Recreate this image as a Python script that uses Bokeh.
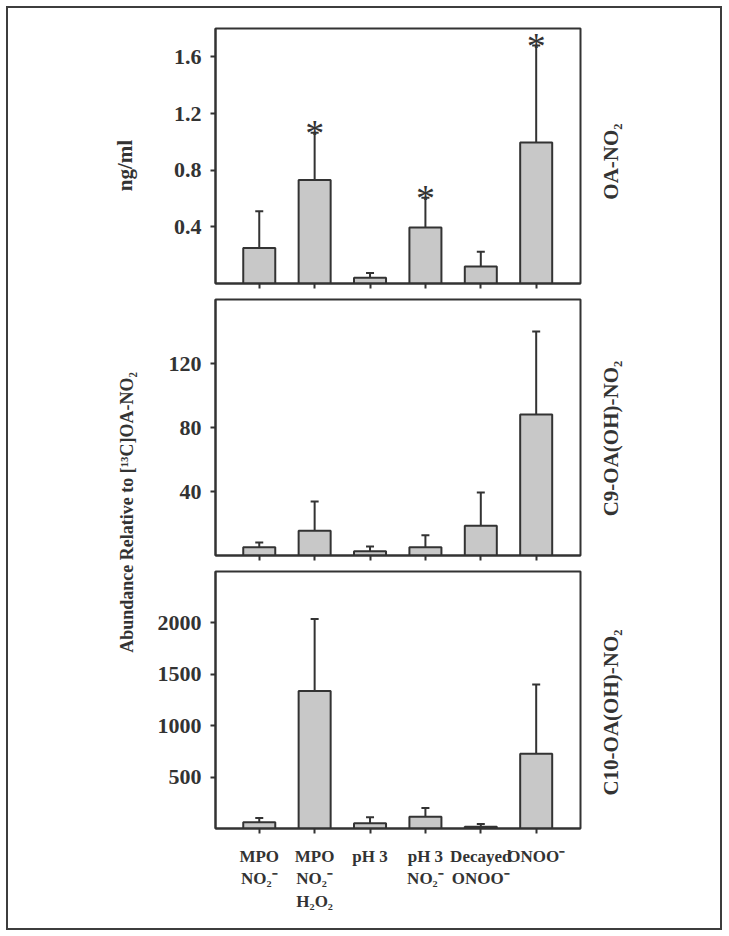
import math
from bokeh.plotting import figure
from bokeh.layouts import row, column
from bokeh.models import Range1d, FixedTicker, Whisker, TeeHead, ColumnDataSource
from bokeh.core.properties import value
from bokeh.embed import file_html
from bokeh.resources import INLINE

# ---------------- data ----------------
conditions = ["MPO\nNO\u2082\u207b", "MPO\nNO\u2082\u207b\nH\u2082O\u2082", "pH 3",
              "pH 3\nNO\u2082\u207b", "Decayed\nONOO\u207b", "ONOO\u207b"]
positions = [0, 1, 2, 3, 4, 5]

oa_no2_mean = [0.25, 0.73, 0.04, 0.395, 0.12, 0.995]
oa_no2_err = [0.26, 0.335, 0.035, 0.21, 0.105, 0.685]
oa_no2_sig = [False, True, False, True, False, True]
oa_no2_ticks = [0.4, 0.8, 1.2, 1.6]

c9_mean = [5.1, 15.5, 2.6, 5.1, 18.6, 88.2]
c9_err = [3.1, 18.3, 3.1, 7.5, 20.8, 51.8]
c9_ticks = [40, 80, 120]

c10_mean = [60, 1338, 50, 115, 18, 728]
c10_err = [42, 701, 59, 85, 25, 672]
c10_ticks = [500, 1000, 1500, 2000]

panel_names = ["OA-NO\u2082", "C9-OA(OH)-NO\u2082", "C10-OA(OH)-NO\u2082"]
y_title_top = "ng/ml"
y_title_main = "Abundance Relative to [\u00b9\u00b3C]OA-NO\u2082"

# ---------------- style ----------------
FONT = "Liberation Serif"
INK = "#333333"
BAR = "#c8c8c8"
X_LO, X_HI = -0.79, 5.80
H = 920          # total content height
PANEL_W = 440


def make_panel(means, errs, ymax, ticks, height, b_top, b_bottom,
               show_labels, sig=None):
    p = figure(width=PANEL_W, height=height, x_range=Range1d(X_LO, X_HI),
               y_range=Range1d(0, ymax), output_backend="svg",
               toolbar_location=None, min_border_left=65, min_border_right=10,
               min_border_top=b_top, min_border_bottom=b_bottom)
    p.grid.visible = False
    p.background_fill_color = "white"
    p.border_fill_color = "white"
    p.outline_line_color = INK
    p.outline_line_width = 2

    upper = [m + e for m, e in zip(means, errs)]
    src = ColumnDataSource(dict(x=positions, mean=means, upper=upper))
    p.vbar(x="x", top="mean", bottom=0, width=0.578, source=src,
           fill_color=BAR, line_color=INK, line_width=2)
    w = Whisker(base="x", lower="mean", upper="upper", source=src,
                dimension="height", line_color=INK, line_width=2,
                lower_head=None,
                upper_head=TeeHead(size=8, line_color=INK, line_width=2))
    p.add_layout(w)

    if sig is not None:
        sx = [x for x, s in zip(positions, sig) if s]
        sy = [u for u, s in zip(upper, sig) if s]
        p.text(x=sx, y=sy, text=["*"] * len(sx), text_font=value(FONT),
               text_font_size="38px", text_color=INK, text_align="center",
               text_baseline="alphabetic", y_offset=0)

    ya = p.yaxis[0]
    ya.ticker = FixedTicker(ticks=ticks)
    ya.major_tick_out = 5
    ya.major_tick_in = 0
    ya.minor_tick_line_color = None
    ya.axis_line_color = INK
    ya.axis_line_width = 2
    ya.major_tick_line_color = INK
    ya.major_tick_line_width = 2
    ya.major_label_text_font = FONT
    ya.major_label_text_font_style = "bold"
    ya.major_label_text_font_size = "22px"
    ya.major_label_text_color = INK
    ya.major_label_standoff = 9

    xa = p.xaxis[0]
    xa.axis_line_color = INK
    xa.axis_line_width = 2
    if show_labels:
        xa.ticker = FixedTicker(ticks=positions)
        xa.major_tick_out = 5
        xa.major_tick_in = 0
        xa.minor_tick_line_color = None
        xa.major_tick_line_color = INK
        xa.major_tick_line_width = 2
        xa.major_label_overrides = {i: c for i, c in zip(positions, conditions)}
        xa.major_label_text_font = FONT
        xa.major_label_text_font_style = "bold"
        xa.major_label_text_font_size = "17px"
        xa.major_label_text_color = INK
        xa.major_label_standoff = 13
    else:
        # ticks only, no labels: use minor ticks at the bar positions
        xa.ticker = FixedTicker(ticks=[], minor_ticks=positions)
        xa.major_tick_line_color = None
        xa.minor_tick_out = 5
        xa.minor_tick_in = 0
        xa.minor_tick_line_color = INK
        xa.minor_tick_line_width = 2
    return p


p1 = make_panel(oa_no2_mean, oa_no2_err, 1.8, oa_no2_ticks,
                283, 20, 8, False, sig=oa_no2_sig)
p2 = make_panel(c9_mean, c9_err, 160, c9_ticks, 272, 8, 8, False)
p3 = make_panel(c10_mean, c10_err, 2500, c10_ticks, 365, 8, 100, True)


def strip(width):
    s = figure(width=width, height=H, x_range=Range1d(0, width),
               y_range=Range1d(0, H), x_axis_location=None,
               y_axis_location=None, output_backend="svg",
               toolbar_location=None, min_border=0)
    s.grid.visible = False
    s.outline_line_color = None
    return s


txt = dict(angle=math.pi / 2, text_font=value(FONT), text_font_style="bold",
           text_color=INK, text_align="center", text_baseline="middle")

# left strip: y titles
left = strip(142)
left.text(x=[116], y=[H - 157], text=[y_title_top], text_font_size="21px", **txt)
left.text(x=[118], y=[H - 504], text=[y_title_main], text_font_size="18px", **txt)

# right strip: panel names
right = strip(130)
right.text(x=[20, 20, 20], y=[H - 153, H - 430, H - 704], text=panel_names,
           text_font_size="21px", **txt)

layout = row(left, column(p1, p2, p3), right)
layout.styles = {"border": "2px solid #3d3d3d", "margin": "6px"}

open("out.html", "w").write(file_html(layout, INLINE))
